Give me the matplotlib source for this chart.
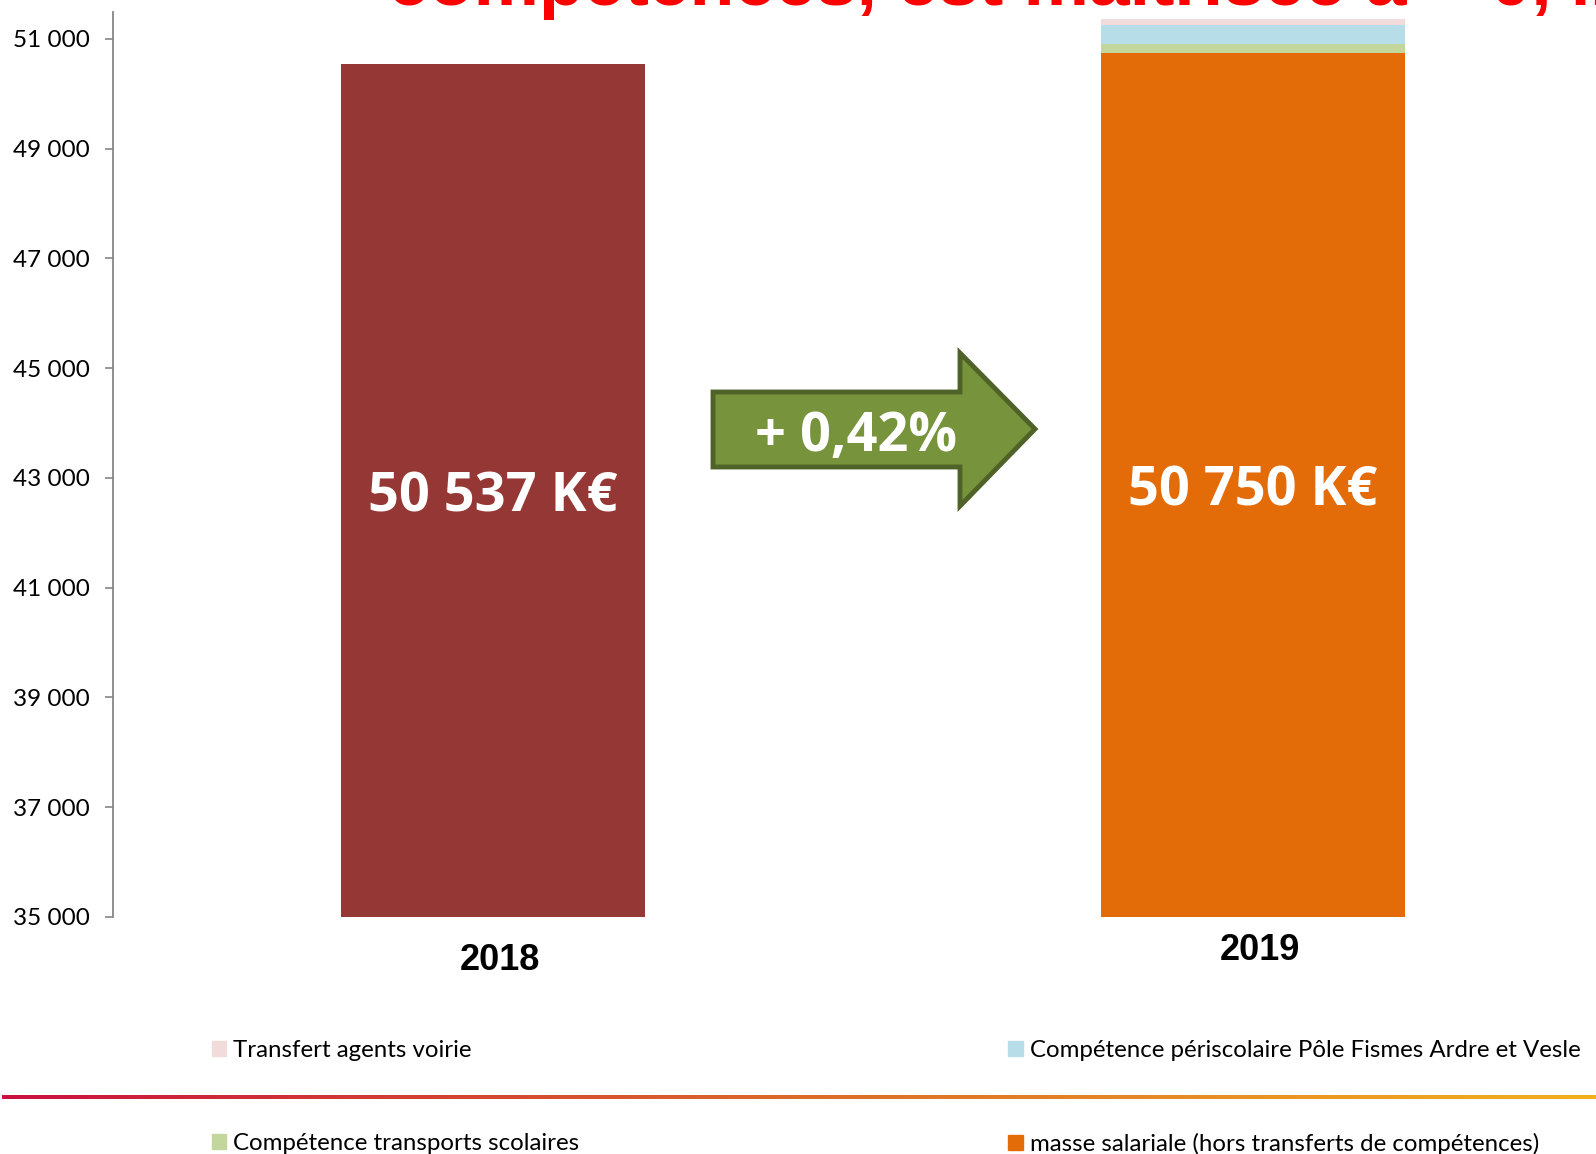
import matplotlib.pyplot as plt
import numpy as np
from matplotlib.patches import Polygon, Patch
from matplotlib.colors import LinearSegmentedColormap
from matplotlib.ticker import FuncFormatter

# data (K€)
years = ["2018", "2019"]
total_2018 = 50537
masse_2019 = 50750
transports_2019 = 160
periscolaire_2019 = 345
voirie_2019 = 110
growth_label = "+ 0,42%"
labels_bar = ["50 537 K€", "50 750 K€"]
yticks = [35000, 37000, 39000, 41000, 43000, 45000, 47000, 49000, 51000]

W, H = 1596, 1154
fig = plt.figure(figsize=(W / 100, H / 100), dpi=100)

def fx(x):
    return x / W

def fy(y):
    return 1 - y / H

#axes placed in pixel terms
ax = fig.add_axes([fx(113), fy(917), 1 - fx(113), fy(12) - fy(917)])
ax.set_xlim(-0.5, 1.451)
ax.set_ylim(35000, 51492)

w = 0.4
ax.bar(0, total_2018 - 35000, bottom=35000, width=w, color="#953735")
bottom = 35000
stack = [(masse_2019 - 35000, "#E36C09"), (transports_2019, "#C3D69B"),
         (periscolaire_2019, "#B7DEE8"), (voirie_2019, "#F2DCDB")]
for v, c in stack:
    ax.bar(1, v, bottom=bottom, width=w, color=c)
    bottom += v

for s in ["top", "right", "bottom"]:
    ax.spines[s].set_visible(False)
ax.spines["left"].set_color("#868686")
ax.spines["left"].set_linewidth(1.3)
ax.set_xticks([])
ax.set_yticks(yticks)
ax.yaxis.set_major_formatter(FuncFormatter(lambda v, p: "{:,}".format(int(v)).replace(",", " ")))
ax.tick_params(axis="y", length=6, width=1.2, color="#868686", pad=11, labelsize=17.5)
for t in ax.get_yticklabels():
    t.set_fontfamily("Lato")

# bar labels
ax.text(0, 42650, labels_bar[0], color="white", ha="center", va="center",
        fontsize=39, fontweight="bold", family="Open Sans")
ax.text(1, 42760, labels_bar[1], color="white", ha="center", va="center",
        fontsize=39, fontweight="bold", family="Open Sans")

# category labels
fig.text(fx(500), fy(960), years[0], ha="center", va="center", fontsize=26,
         fontweight="bold", family="Liberation Sans")
fig.text(fx(1260), fy(950), years[1], ha="center", va="center", fontsize=26,
         fontweight="bold", family="Liberation Sans")

# arrow
pts = [(713, 392), (960, 392), (960, 353), (1035, 429), (960, 506), (960, 467), (713, 467)]
arrow = Polygon([(fx(x), fy(y)) for x, y in pts], closed=True, transform=fig.transFigure,
                facecolor="#77933C", edgecolor="#4F6228", linewidth=3.5, joinstyle="miter")
fig.add_artist(arrow)
fig.text(fx(856), fy(437), growth_label, ha="center", va="center", color="white",
         fontsize=39, fontweight="bold", family="Open Sans")

# cut-off title at the top
fig.text(fx(388), fy(5), "compétences, est maîtrisée à + 0,42 %", ha="left", va="baseline",
         color="#FF0000", fontsize=52.8, fontweight="bold", family="Liberation Sans")

# legend
handles = [Patch(color="#F2DCDB", label="Transfert agents voirie"),
           Patch(color="#C3D69B", label="Compétence transports scolaires"),
           Patch(color="#B7DEE8", label="Compétence périscolaire Pôle Fismes Ardre et Vesle"),
           Patch(color="#E36C09", label="masse salariale (hors transferts de compétences)")]
fig.legend(handles=handles, ncol=2, loc="upper left", bbox_to_anchor=(fx(202), fy(1030)),
           frameon=False, prop={"family": "Lato", "size": 17.3}, handlelength=0.6,
           handleheight=0.6, handletextpad=0.3, labelspacing=3.02, columnspacing=17.85,
           borderaxespad=0)

# gradient line
gax = fig.add_axes([fx(2), fy(1099), 1 - fx(2), 4 / H])
cmap = LinearSegmentedColormap.from_list("g", ["#C8123F", "#DC6A2A", "#F2B01E"])
gax.imshow(np.linspace(0, 1, 256)[None, :], aspect="auto", cmap=cmap)
gax.axis("off")

fig.savefig("out.png", dpi=100)
